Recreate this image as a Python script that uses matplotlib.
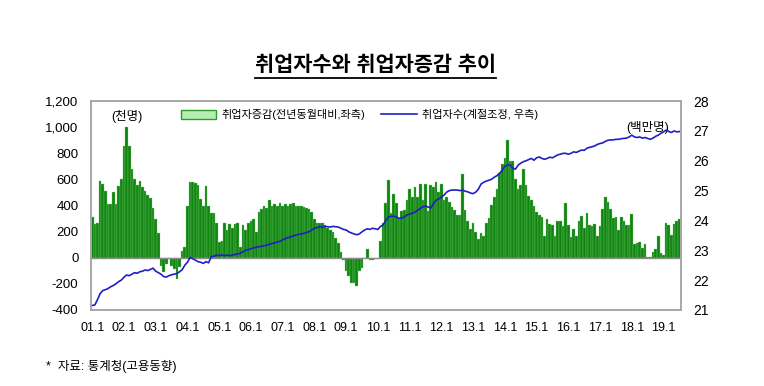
import numpy as np
import matplotlib
matplotlib.use("Agg")
import matplotlib.pyplot as plt
from matplotlib.lines import Line2D
from matplotlib.patches import Patch

plt.rcParams['font.family'] = ['Liberation Sans', 'Noto Sans CJK KR']

# monthly, 2001.1 - 2019.7
# year-on-year change in employed persons (thousand, left axis)
change_k = [
    310, 260, 270, 590, 565, 515, 410, 410, 500, 410, 550, 605,      # 2001
    860, 1000, 860, 680, 600, 560, 590, 540, 510, 480, 460, 380,     # 2002
    300, 190, -60, -110, -45, -10, -60, -85, -160, -70, 50, 80,      # 2003
    400, 580, 580, 570, 560, 450, 400, 550, 400, 340, 340, 270,      # 2004
    120, 130, 270, 210, 260, 230, 260, 270, 80, 250, 210, 270,       # 2005
    280, 300, 200, 350, 370, 400, 380, 440, 400, 410, 400, 420,      # 2006
    400, 410, 400, 410, 420, 400, 400, 395, 390, 380, 370, 350,      # 2007
    300, 270, 265, 265, 250, 230, 210, 196, 150, 110, 45, -15,       # 2008
    -100, -140, -195, -190, -220, -100, -75, -5, 70, -20, -20, -10,  # 2009
    -10, 125, 270, 417, 592, 342, 492, 417, 305, 355, 367, 442,      # 2010
    530, 467, 542, 467, 567, 442, 567, 355, 555, 542, 580, 505,      # 2011
    567, 442, 467, 430, 392, 367, 330, 330, 642, 367, 280, 217,      # 2012
    267, 200, 142, 192, 167, 267, 305, 405, 467, 530, 650, 717,      # 2013
    767, 900, 740, 740, 600, 530, 560, 677, 560, 470, 440, 400,      # 2014
    350, 330, 310, 170, 300, 260, 250, 170, 285, 280, 240, 420,      # 2015
    250, 160, 220, 170, 280, 320, 230, 340, 250, 240, 260, 170,      # 2016
    243, 371, 466, 424, 375, 301, 313, 212, 314, 279, 253, 253,      # 2017
    334, 104, 112, 123, 72, 106, 5, 3, 45, 64, 165, 34,              # 2018
    19, 263, 250, 171, 259, 281, 299,                                # 2019
]

# employed persons, seasonally adjusted (million, right axis)
employed_m = [
    21.15, 21.17, 21.35, 21.55, 21.65, 21.68, 21.72, 21.78, 21.82, 21.88, 21.95, 22.00,
    22.10, 22.17, 22.15, 22.20, 22.25, 22.23, 22.28, 22.30, 22.34, 22.32, 22.36, 22.40,
    22.30, 22.25, 22.20, 22.12, 22.10, 22.15, 22.18, 22.20, 22.22, 22.28, 22.35, 22.50,
    22.60, 22.76, 22.72, 22.67, 22.62, 22.60, 22.56, 22.62, 22.58, 22.79, 22.80, 22.84,
    22.82, 22.85, 22.82, 22.84, 22.82, 22.84, 22.86, 22.88, 22.90, 22.95, 23.00, 23.02,
    23.05, 23.08, 23.10, 23.12, 23.13, 23.15, 23.18, 23.20, 23.23, 23.25, 23.28, 23.30,
    23.35, 23.40, 23.42, 23.45, 23.48, 23.51, 23.53, 23.55, 23.57, 23.60, 23.62, 23.68,
    23.74, 23.76, 23.79, 23.78, 23.80, 23.79, 23.78, 23.80, 23.79, 23.78, 23.74, 23.70,
    23.68, 23.62, 23.58, 23.55, 23.52, 23.55, 23.62, 23.68, 23.72, 23.70, 23.74, 23.72,
    23.70, 23.80, 23.85, 24.00, 24.12, 24.14, 24.14, 24.12, 24.07, 24.08, 24.12, 24.18,
    24.22, 24.24, 24.28, 24.34, 24.40, 24.46, 24.48, 24.45, 24.42, 24.56, 24.68, 24.72,
    24.78, 24.85, 24.95, 25.00, 25.02, 25.02, 25.02, 25.00, 25.02, 24.98, 24.96, 24.92,
    24.90, 24.95, 25.05, 25.22, 25.28, 25.32, 25.35, 25.38, 25.45, 25.50, 25.58, 25.68,
    25.82, 25.86, 25.86, 25.75, 25.72, 25.85, 25.92, 25.97, 26.00, 26.04, 26.08, 26.02,
    26.10, 26.13, 26.08, 26.05, 26.08, 26.12, 26.10, 26.15, 26.20, 26.22, 26.25, 26.25,
    26.22, 26.25, 26.30, 26.28, 26.32, 26.36, 26.35, 26.42, 26.45, 26.47, 26.50, 26.55,
    26.58, 26.60, 26.65, 26.69, 26.70, 26.70, 26.72, 26.72, 26.74, 26.75, 26.76, 26.80,
    26.86, 26.80, 26.78, 26.80, 26.76, 26.78, 26.75, 26.72, 26.76, 26.82, 26.86, 26.92,
    26.97, 27.03, 26.98, 26.95, 27.00, 26.97, 26.98,
]

tick_labels = ["%02d.1" % y for y in range(1, 20)]
left_ticks = list(range(-400, 1201, 200))
right_ticks = list(range(21, 29))

x = np.arange(len(change_k))

fig = plt.figure(figsize=(7.64, 3.86), dpi=100)
ax = fig.add_axes([0.119, 0.197, 0.772, 0.541])
ax2 = ax.twinx()

ax.bar(x, change_k, width=1.0, color='#0f840f', edgecolor='#7ccf7c', linewidth=0.25)
ax.axhline(0, color='#8c8c8c', lw=1.0)
ax2.plot(x, employed_m, color='#1f1fc4', lw=1.2)

ax.set_xlim(-0.5, len(x) - 0.5)
ax.set_ylim(-400, 1200)
ax2.set_ylim(21, 28)

ax.set_xticks(np.arange(0, len(x), 12))
ax.set_xticklabels(tick_labels, fontsize=9)
ax.set_yticks(left_ticks)
ax.set_yticklabels([f"{v:,}" for v in left_ticks], fontsize=9.5)
ax2.set_yticks(right_ticks)
ax2.set_yticklabels([str(v) for v in right_ticks], fontsize=10)

ax.tick_params(axis='both', length=0, pad=9)
ax.tick_params(axis='x', pad=9)
ax2.tick_params(axis='y', length=0, pad=9)
for a in (ax, ax2):
    for s in a.spines.values():
        s.set_color('#a8a8a8')
        s.set_linewidth(1.2)

# legend
handles = [Patch(facecolor='#b4eeb0', edgecolor='#2e9a2e', lw=1.0),
           Line2D([0], [0], color='#1f1fc4', lw=1.2)]
ax2.legend(handles, ["취업자증감(전년동월대비,좌측)", "취업자수(계절조정, 우측)"],
           ncol=2, frameon=False, fontsize=8, loc='upper left',
           bbox_to_anchor=(0.135, 1.01), handlelength=3.2, handleheight=0.9,
           columnspacing=1.4, handletextpad=0.5)

ax.text(0.061, 0.926, "(천명)", transform=ax.transAxes, ha='center', va='center', fontsize=9)
ax.text(0.944, 0.876, "(백만명)", transform=ax.transAxes, ha='center', va='center', fontsize=9)

title = fig.text(0.492, 0.83, "취업자수와 취업자증감 추이", ha='center', va='center',
                 fontsize=15, fontweight='bold')
fig.text(0.06, 0.05, "*  자료: 통계청(고용동향)", ha='left', va='center', fontsize=9)

# underline the title
fig.canvas.draw()
bb = title.get_window_extent(fig.canvas.get_renderer())
(x0, y0), (x1, y1) = fig.transFigure.inverted().transform(bb)
fig.add_artist(Line2D([x0, x1], [y0 - 0.006, y0 - 0.006], transform=fig.transFigure,
                      color='black', lw=1.3))

fig.savefig("out.png", dpi=100)
